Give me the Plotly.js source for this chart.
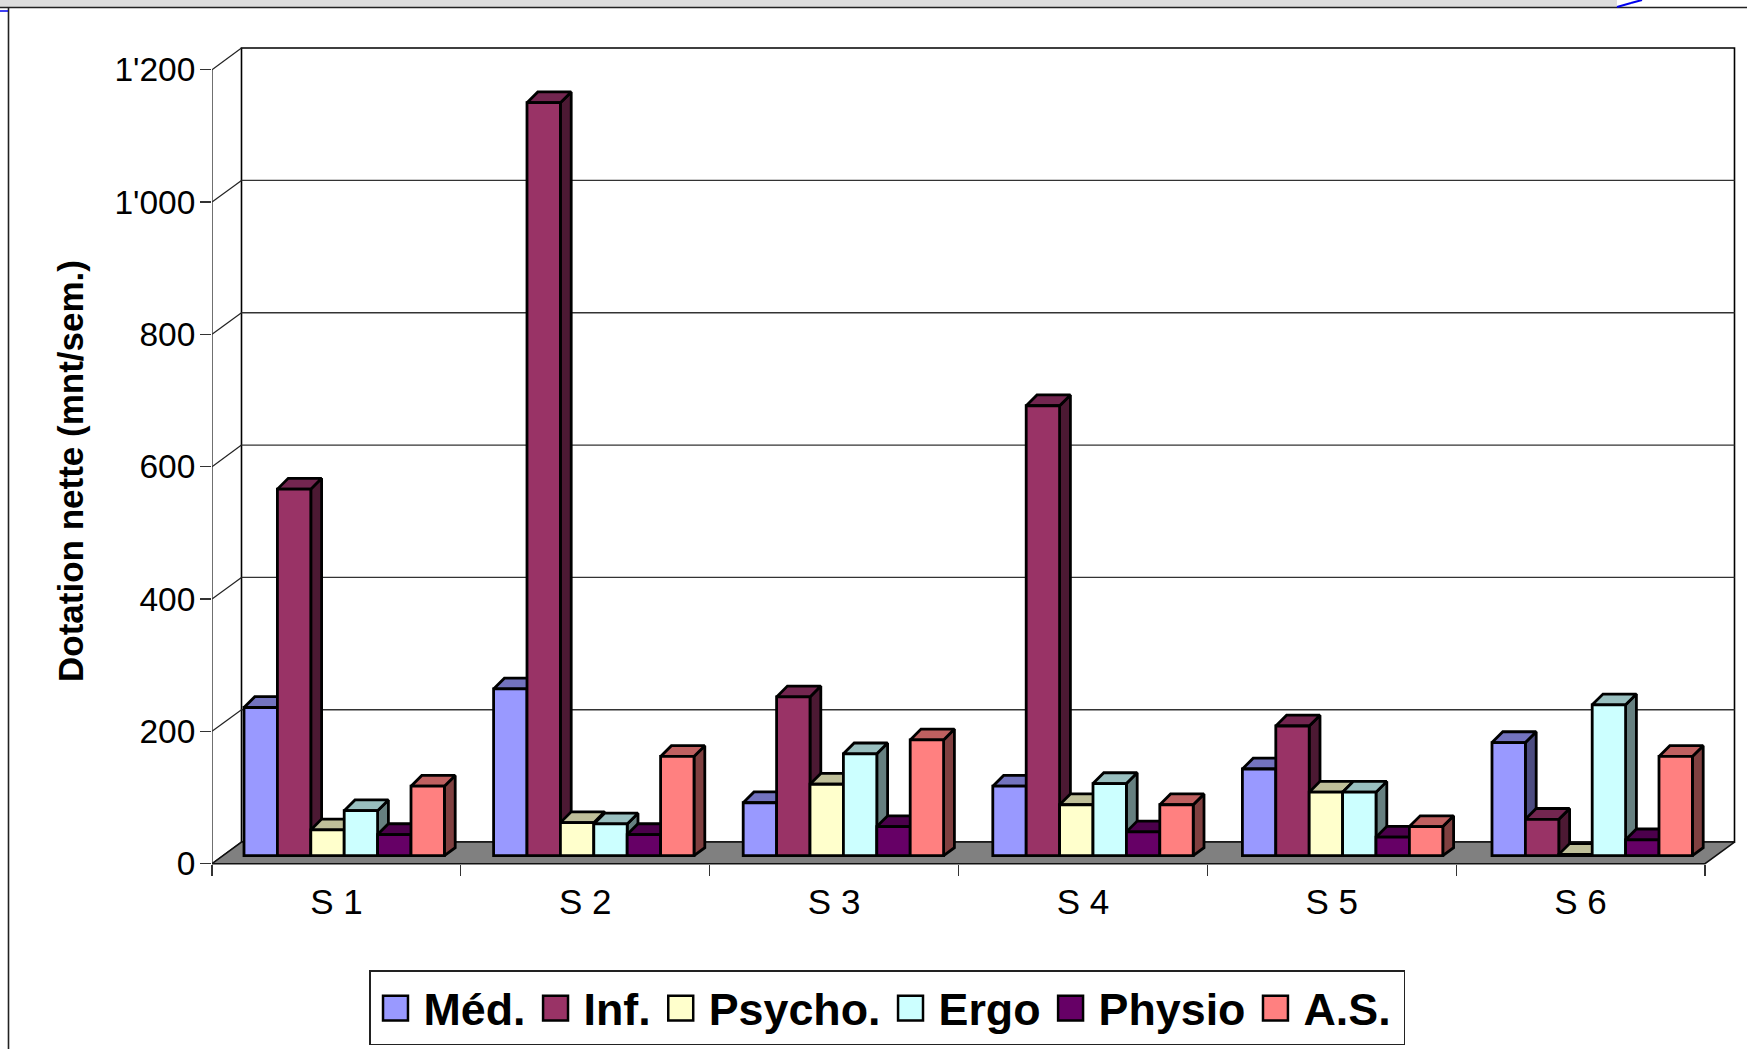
<!DOCTYPE html>
<html>
<head>
<meta charset="utf-8">
<script src="https://cdn.plot.ly/plotly-3.0.1.min.js"></script>
<style>html,body{margin:0;padding:0;background:#fff;overflow:hidden}#chart{width:1747px;height:1049px}</style>
</head>
<body>
<div id="chart"></div>
<script>
const categories = ['S 1', 'S 2', 'S 3', 'S 4', 'S 5', 'S 6'];
const seriesNames = ['Méd.', 'Inf.', 'Psycho.', 'Ergo', 'Physio', 'A.S.'];
const med    = [224, 252, 80, 105, 131, 171];
const inf    = [554, 1138, 240, 680, 196, 55];
const psycho = [39, 50, 108, 77, 96, 2];
const ergo   = [68, 48, 154, 109, 96, 228];
const physio = [32, 32, 44, 36, 28, 24];
const as     = [105, 150, 175, 77, 44, 150];
const seriesValues = [med, inf, psycho, ergo, physio, as];
const frontColors = ['#9999FF', '#993366', '#FFFFCC', '#CCFFFF', '#660066', '#FF8080'];
const topColors   = ['#7373BF', '#732650', '#BFBF99', '#99BFBF', '#4C004C', '#BF6060'];
const sideColors  = ['#4C4C80', '#4C1933', '#808066', '#668080', '#330033', '#804040'];
const yTicks = [0, 200, 400, 600, 800, 1000, 1200];
const yTickText = ['0', '200', '400', '600', '800', "1'000", "1'200"];

// pixel frame of the plot area and the scale of the pretend 3-D projection
const W = 1747, H = 1049, L = 212, R = 1740, T = 44, B = 898;
const CAT_PX = 248.83, UNIT_PX = 0.6617, ZERO_PX = 863.7;
const xu = px => px / CAT_PX;          // px length -> x units
const yu = px => px / UNIT_PX;         // px length -> y units
const FONT = '"Liberation Sans", Arial, sans-serif';

const wallDX = xu(29.5), wallDY = yu(21.6);
const xMax = xu(1705 - L);             // six categories
const barW = xu(33.4), barDX = xu(10.8), barDY = yu(10.8), baseDY = yu(8), baseUnits = yu(8);
const groupStart = g => xu(244 - L + 249.6 * g);

const traces = [];
const deco = (x, y, extra) => Object.assign({
  type: 'scatter', mode: 'lines', x, y, showlegend: false, hoverinfo: 'skip', cliponaxis: false, zorder: 0
}, extra);

// back wall
traces.push(deco(
  [wallDX, xMax + wallDX, xMax + wallDX, wallDX, wallDX],
  [wallDY, wallDY, 1200 + wallDY, 1200 + wallDY, wallDY],
  {name: 'wall', line: {color: '#000', width: 1.6}}));
// gridlines on the back wall and their returns on the left wall
yTicks.forEach(t => {
  if (t > 0 && t < 1200) {
    traces.push(deco([wallDX, xMax + wallDX], [t + wallDY, t + wallDY],
      {name: 'grid ' + t, line: {color: '#333', width: 1.3}}));
  }
  traces.push(deco([0, wallDX], [t, t + wallDY], {name: 'side ' + t, line: {color: '#222', width: 1.2}}));
});
// left wall front edge
traces.push(deco([0, 0], [0, 1200], {name: 'y axis', line: {color: '#333', width: 1.4}}));
// floor
traces.push(deco(
  [0, xMax, xMax + wallDX, wallDX, 0],
  [0, 0, wallDY, wallDY, 0],
  {name: 'floor', fill: 'toself', fillcolor: '#808080', line: {color: '#111', width: 1.5}}));

// bars: faces built from the values, series layered left to right
seriesValues.forEach((vals, s) => {
  const tx = [], ty = [], sx = [], sy = [], bx = [];
  vals.forEach((v, g) => {
    const x0 = groupStart(g) + s * barW, x1 = x0 + barW, top = v + baseUnits, bot = baseUnits;
    bx.push((x0 + x1) / 2);
    tx.push(x0, x1, x1 + barDX, x0 + barDX, x0, null);
    ty.push(top, top, top + barDY, top + barDY, top, null);
    sx.push(x1, x1 + barDX, x1 + barDX, x1, x1, null);
    sy.push(bot, bot + baseDY, top + barDY, top, bot, null);
  });
  const edge = {color: '#000', width: 2.8};
  traces.push(deco(sx, sy, {name: seriesNames[s] + ' side', fill: 'toself', fillcolor: sideColors[s], line: edge, zorder: 2 * s + 1}));
  traces.push(deco(tx, ty, {name: seriesNames[s] + ' top', fill: 'toself', fillcolor: topColors[s], line: edge, zorder: 2 * s + 1}));
  traces.push({
    type: 'bar', name: seriesNames[s], x: bx, y: vals, base: baseUnits, width: barW,
    marker: {color: frontColors[s], line: {color: '#000', width: 2.8}},
    hoverinfo: 'y+name', zorder: 2 * s + 2, cliponaxis: false
  });
});

// page furniture around the chart, given in page pixels
const pxX = px => (px - L) / (R - L), pxY = py => (B - py) / (B - T);
const rect = (x0, y0, x1, y1, fill) => ({type: 'rect', xref: 'paper', yref: 'paper',
  x0: pxX(x0), y0: pxY(y0), x1: pxX(x1), y1: pxY(y1), fillcolor: fill, line: {width: 0}});
const seg = (x0, y0, x1, y1, color, w) => ({type: 'line', xref: 'paper', yref: 'paper',
  x0: pxX(x0), y0: pxY(y0), x1: pxX(x1), y1: pxY(y1), line: {color, width: w}});
const shapes = [
  rect(0, 0, 1617, 7, '#DDDDDD'),
  seg(0, 7.5, W, 7.5, '#222', 1.6),
  seg(8.5, 7.5, 8.5, H, '#222', 1.6),
  seg(0, 11, 8, 11, '#0000EE', 1.5),
  seg(1617, 7, 1631, 3, '#0000EE', 2),
  seg(1631, 3, 1642, 0, '#0000EE', 2)
];

const layout = {
  width: W, height: H,
  margin: {l: L, r: W - R, t: T, b: H - B, pad: 0},
  paper_bgcolor: '#fff', plot_bgcolor: 'rgba(0,0,0,0)',
  barmode: 'overlay',
  font: {family: FONT, color: '#000', size: 33},
  xaxis: {
    range: [0, (R - L) / CAT_PX], anchor: 'free', position: (B - ZERO_PX) / (B - T),
    tickmode: 'array', tickvals: categories.map((c, i) => i + 0.5), ticktext: categories,
    ticks: 'outside', ticklen: 7, tickcolor: 'rgba(0,0,0,0)',
    minor: {tickmode: 'array', tickvals: [0, 1, 2, 3, 4, 5, 6], ticks: 'outside', ticklen: 11, tickwidth: 1.3, tickcolor: '#333', showgrid: false},
    showgrid: false, zeroline: false, showline: false, tickfont: {size: 35, family: FONT}
  },
  yaxis: {
    range: [-(B - ZERO_PX) / UNIT_PX, (ZERO_PX - T) / UNIT_PX],
    tickmode: 'array', tickvals: yTicks, ticktext: yTickText,
    ticks: 'outside', ticklen: 11, tickwidth: 1.3, tickcolor: '#333', ticklabelstandoff: -2,
    showgrid: false, zeroline: false, showline: false, tickfont: {size: 33.5, family: FONT},
    title: {text: 'Dotation nette (mnt/sem.)', font: {size: 35, family: FONT, weight: 'bold'}, standoff: 20}
  },
  legend: {
    orientation: 'h', xref: 'container', yref: 'container',
    x: 369 / W, xanchor: 'left', y: (H - 970) / H, yanchor: 'top',
    bgcolor: '#fff', bordercolor: '#222', borderwidth: 1.5, itemwidth: 43,
    font: {size: 44.8, family: FONT, weight: 'bold', color: '#000'},
    itemclick: false, itemdoubleclick: false
  },
  shapes, showlegend: true
};

Plotly.newPlot('chart', traces, layout, {displayModeBar: false, staticPlot: true}).then(gd => {
  gd.querySelectorAll('.legend .legendpoints path').forEach(p => {
    p.setAttribute('transform', 'translate(25,1) scale(2.08)');
    p.style.strokeWidth = '1.2px';
  });
  const bg = gd.querySelector('.legend .bg');
  if (bg) bg.setAttribute('width', parseFloat(bg.getAttribute('width')) + 7);
  gd.querySelectorAll('.legend clipPath rect, .legendclip rect').forEach(r => r.setAttribute('width', parseFloat(r.getAttribute('width')) + 7));
});
</script>
</body>
</html>
